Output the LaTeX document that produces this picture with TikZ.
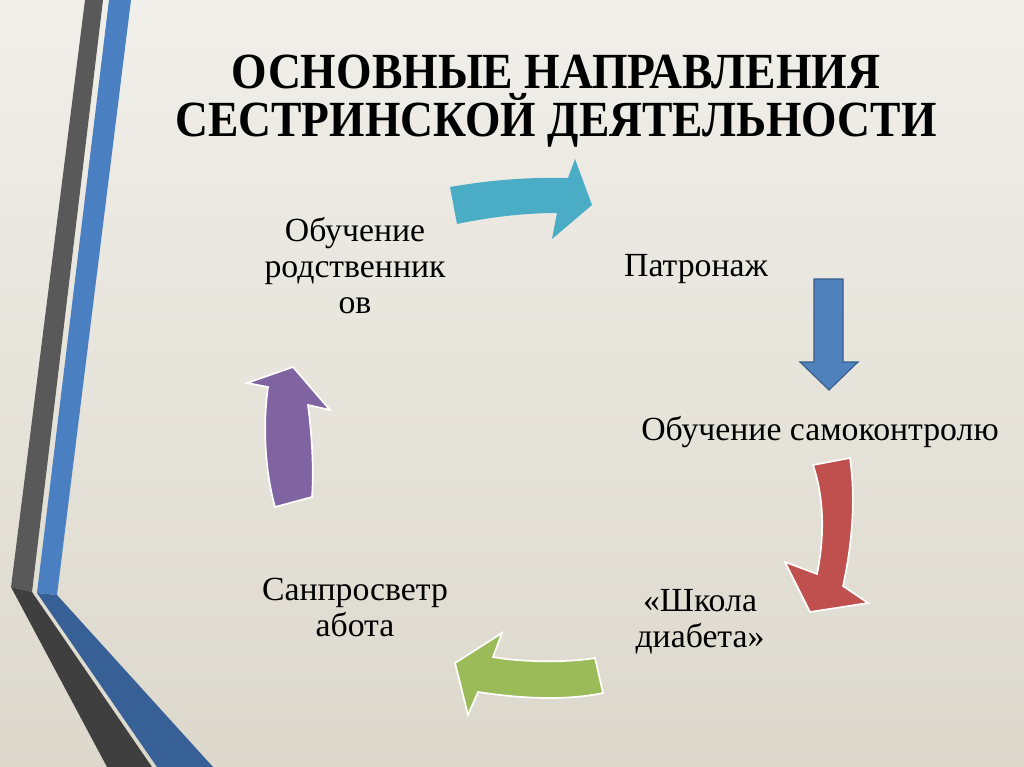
\documentclass[tikz,border=0pt]{standalone}
\usepackage{fontspec}
\setmainfont{Liberation Serif}
\usepackage{graphicx}
\definecolor{bgtop}{HTML}{F1EFEA}
\definecolor{bgmid}{HTML}{F2F1EC}
\definecolor{bgbot}{HTML}{DCD8CC}
\definecolor{grayup}{HTML}{595959}
\definecolor{graylow}{HTML}{3F3F3F}
\definecolor{blueup}{HTML}{4A7FC1}
\definecolor{bluelow}{HTML}{376196}
\definecolor{teal}{HTML}{4BACC6}
\definecolor{sblue}{HTML}{4F81BD}
\definecolor{sblueline}{HTML}{385D8A}
\definecolor{sred}{HTML}{C0504D}
\definecolor{sgreen}{HTML}{9BBB59}
\definecolor{spurple}{HTML}{8064A2}
\tikzset{
  body/.style={font=\fontsize{24}{25.6}\selectfont, align=center, inner sep=0pt},
  blockarrow/.style={draw=white, line width=1.2pt, line join=miter},
  titletext/.style={anchor=base, inner sep=0pt},
}
\begin{document}
\begin{tikzpicture}[x=0.025cm,y=-0.025cm]
\useasboundingbox (0,0) rectangle (1024,767);
% background
\shade[top color=bgtop, middle color=bgmid, bottom color=bgbot] (0,0) rectangle (1024,767);
% left decoration
\fill[grayup] (85,0) -- (103,0) -- (32,592) -- (11,587) -- cycle;
\fill[graylow] (11,587) -- (32,592) -- (152,767) -- (107,767) -- cycle;
\fill[blueup] (109,0) -- (131,0) -- (57,595) -- (37,593) -- cycle;
\fill[bluelow] (37,593) -- (57,595) -- (213,767) -- (157,767) -- cycle;
% title
\node[titletext] (t1) at (556,89)
  {\resizebox{16.2cm}{\height}{\fontsize{36}{38}\selectfont\bfseries ОСНОВНЫЕ НАПРАВЛЕНИЯ}};
\node[titletext] (t2) at (556,137)
  {\resizebox{19.025cm}{\height}{\fontsize{36}{38}\selectfont\bfseries СЕСТРИНСКОЙ ДЕЯТЕЛЬНОСТИ}};
% labels
\node[body] (rel) at (355,266) {Обучение\\родственник\\ов};
\node[body, anchor=base] (pat) at (696,277) {Патронаж};
\node[body, anchor=base] (self) at (820,440) {Обучение самоконтролю};
\node[body] (school) at (700,622) {«Школа\\диабета»};
\node[body] (san) at (355,607) {Санпросветр\\абота};
% arrows
\fill[teal] (450,187) .. controls (490,180) and (530,177) .. (568,178) -- (575,159) -- (592,205) -- (552,239) -- (557,213) .. controls (525,213) and (490,217) .. (457,224) -- cycle;
\filldraw[fill=sblue, draw=sblueline, line width=0.8pt] (814,279) -- (843,279) -- (843,362) -- (858,362) -- (829,390) -- (800,362) -- (814,362) -- cycle;
\filldraw[blockarrow, fill=sred] (813,465) .. controls (825,500) and (824,540) .. (817,574) -- (785,562) -- (810,612) -- (868,603) -- (843,586) .. controls (852,545) and (856,500) .. (850,458) -- cycle;
\filldraw[blockarrow, fill=sgreen] (595,658) .. controls (565,663) and (520,662) .. (493,657) -- (502,633) -- (455,663) -- (468,715) -- (478,692) .. controls (510,697) and (560,702) .. (603,693) -- cycle;
\filldraw[blockarrow, fill=spurple] (293,367) -- (330,410) -- (308,405) .. controls (312,435) and (314,470) .. (312,497) -- (275,507) .. controls (266,475) and (262,430) .. (268,387) -- (247,383) -- cycle;
\end{tikzpicture}
\end{document}
